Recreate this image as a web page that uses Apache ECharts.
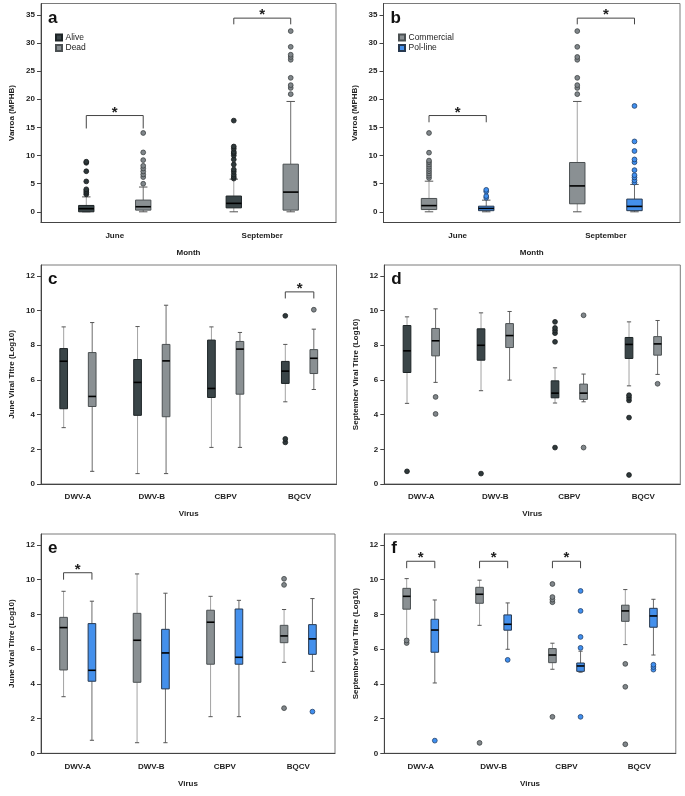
<!DOCTYPE html>
<html>
<head>
<meta charset="utf-8">
<script src="https://cdn.jsdelivr.net/npm/echarts@6/dist/echarts.min.js"></script>
<style>
html, body { margin: 0; padding: 0; background: #fff; }
#container { width: 685px; height: 796px; }
</style>
</head>
<body>
<div id="container"></div>
<script>
// categories and tick labels
var months = ['June', 'September'];
var viruses = ['DWV-A', 'DWV-B', 'CBPV', 'BQCV'];
var varroaTicks = [0, 5, 10, 15, 20, 25, 30, 35];
var titreTicks = [0, 2, 4, 6, 8, 10, 12];

// boxes: [min, Q1, median, Q3, max] per category; outliers per category
var varroaAliveBox = [[0, 0, 0.55, 1.13, 2.65], [0, 0.7, 1.5, 2.8, 5.8]];
var varroaAliveOut = [[3.1, 3.4, 3.7, 4.0, 5.4, 7.2, 8.7, 8.9], [5.9, 6.2, 6.6, 7.1, 7.5, 8.4, 9.3, 10.0, 10.4, 10.65, 11.2, 11.6, 16.2]];
var varroaDeadBox = [[0, 0.3, 0.9, 2.08, 4.4], [0, 0.3, 3.5, 8.46, 19.6]];
var varroaDeadOut = [[4.98, 6.16, 6.64, 7.17, 7.7, 8.17, 9.18, 10.55, 14.0], [20.9, 22.0, 22.5, 23.8, 27.0, 27.5, 27.9, 29.3, 32.1]];
var varroaCommBox = [[0, 0.4, 1.1, 2.37, 5.44], [0, 1.42, 4.6, 8.76, 19.6]];
var varroaCommOut = [[6.0, 6.4, 6.8, 7.2, 7.6, 8.0, 8.4, 8.8, 9.1, 10.5, 14.0], [20.9, 22.0, 22.5, 23.8, 27.0, 27.5, 29.3, 32.1]];
var varroaPolBox = [[0, 0.2, 0.6, 1.0, 2.07], [0, 0.2, 0.96, 2.26, 4.86]];
var varroaPolOut = [[2.5, 2.8, 3.6, 3.9], [5.2, 5.6, 6.1, 6.5, 7.4, 8.8, 9.3, 10.8, 12.5, 18.8]];

var juneAliveBox = [[3.25, 4.34, 7.08, 7.81, 9.06], [0.6, 3.96, 5.86, 7.18, 9.08], [2.11, 4.99, 5.51, 8.3, 9.06], [4.74, 5.8, 6.51, 7.07, 8.05]];
var juneAliveOut = [[], [], [], [2.4, 2.6, 9.7]];
var juneDeadBox = [[0.73, 4.47, 5.05, 7.58, 9.31], [0.6, 3.88, 7.1, 8.05, 10.31], [2.11, 5.18, 7.78, 8.22, 8.74], [5.45, 6.37, 7.25, 7.75, 8.93]];
var juneDeadOut = [[], [], [], [10.05]];
var septAliveBox = [[4.65, 6.43, 7.68, 9.14, 9.64], [5.38, 7.14, 8.0, 8.95, 9.87], [4.67, 4.97, 5.24, 5.95, 6.7], [5.66, 7.24, 8.05, 8.45, 9.35]];
var septAliveOut = [[0.73], [0.6], [2.1, 8.2, 8.7, 8.85, 9.0, 9.35], [0.52, 3.83, 4.82, 4.97, 5.12]];
var septDeadBox = [[5.86, 7.39, 8.26, 8.97, 10.1], [5.99, 7.87, 8.56, 9.25, 9.95], [4.74, 4.88, 5.24, 5.76, 6.34], [6.32, 7.43, 8.08, 8.5, 9.43]];
var septDeadOut = [[4.04, 5.02], [], [2.1, 9.73], [5.78]];
var juneCommBox = [[3.26, 4.8, 7.24, 7.83, 9.33], [0.61, 4.09, 6.51, 8.06, 10.33], [2.11, 5.13, 7.55, 8.24, 9.04], [5.24, 6.37, 6.76, 7.37, 8.28]];
var juneCommOut = [[], [], [], [2.6, 9.7, 10.05]];
var junePolBox = [[0.75, 4.15, 4.78, 7.47, 8.76], [0.61, 3.71, 5.78, 7.14, 9.22], [2.11, 5.13, 5.53, 8.31, 8.81], [4.72, 5.7, 6.59, 7.41, 8.91]];
var junePolOut = [[], [], [], [2.4]];
var septCommBox = [[6.59, 8.3, 9.04, 9.5, 10.06], [7.37, 8.64, 9.16, 9.56, 9.97], [4.84, 5.22, 5.66, 6.03, 6.34], [6.26, 7.6, 8.2, 8.53, 9.43]];
var septCommOut = [[6.35, 6.5], [0.6], [2.1, 8.7, 8.85, 9.0, 9.75], [0.52, 3.83, 5.15]];
var septPolBox = [[4.05, 5.82, 7.1, 7.72, 8.83], [5.99, 7.09, 7.43, 7.97, 8.66], [4.67, 4.72, 5.03, 5.2, 5.88], [5.66, 7.26, 7.91, 8.35, 8.87]];
var septPolOut = [[0.73], [5.38], [2.1, 6.07, 6.7, 8.2, 9.35], [4.82, 4.97, 5.1]];

// significance brackets: [category, bracket height, leg end]
var bracketsA = [[0, 17.1, 14.8], [1, 34.4, 33.3]];
var bracketsB = [[0, 17.1, 15.9], [1, 34.4, 33.3]];
var bracketsC = [[3, 11.08, 10.7]];
var bracketsD = [];
var bracketsE = [[0, 10.4, 10.0]];
var bracketsF = [[0, 11.06, 10.66], [1, 11.06, 10.66], [2, 11.06, 10.66]];

var FONT = '"Liberation Sans", Arial, sans-serif';
var SHIFT = 0.193;   // box centre offset, fraction of band width
var BOXW = 0.104;    // box width, fraction of band width
var WHISKER = ['#a3a3a3', '#6c6c6c'];

var styles = {
    dark: { fill: '#3a4548', stroke: '#1d2426', dot: '#2f393b', dotStroke: '#161b1c' },
    grey: { fill: '#8a9093', stroke: '#4b5052', dot: '#80868a', dotStroke: '#3c4143' },
    blue: { fill: '#4490ec', stroke: '#27384f', dot: '#3f8ff0', dotStroke: '#22406a' }
};

var panels = [
    { letter: 'a', grid: { left: 41, top: 3.5, width: 295, height: 219 }, cats: months, min: -1.9, max: 37, ticks: varroaTicks,
      yName: 'Varroa (MPHB)', xName: 'Month', legend: { left: 55, top: 33 }, brackets: bracketsA,
      groups: [{ name: 'Alive', box: varroaAliveBox, out: varroaAliveOut, st: styles.dark },
               { name: 'Dead', box: varroaDeadBox, out: varroaDeadOut, st: styles.grey }] },
    { letter: 'b', grid: { left: 383.5, top: 3.5, width: 296.5, height: 219 }, cats: months, min: -1.9, max: 37, ticks: varroaTicks,
      yName: 'Varroa (MPHB)', xName: 'Month', legend: { left: 398, top: 33 }, brackets: bracketsB,
      groups: [{ name: 'Commercial', box: varroaCommBox, out: varroaCommOut, st: styles.grey },
               { name: 'Pol-line', box: varroaPolBox, out: varroaPolOut, st: styles.blue }] },
    { letter: 'c', grid: { left: 41, top: 265, width: 295.5, height: 219 }, cats: viruses, min: 0, max: 12.63, ticks: titreTicks,
      yName: 'June Viral Titre (Log10)', xName: 'Virus', brackets: bracketsC,
      groups: [{ name: 'Alive', box: juneAliveBox, out: juneAliveOut, st: styles.dark },
               { name: 'Dead', box: juneDeadBox, out: juneDeadOut, st: styles.grey }] },
    { letter: 'd', grid: { left: 384.3, top: 265, width: 296, height: 219 }, cats: viruses, min: 0, max: 12.63, ticks: titreTicks,
      yName: 'September Viral Titre (Log10)', xName: 'Virus', brackets: bracketsD,
      groups: [{ name: 'Alive', box: septAliveBox, out: septAliveOut, st: styles.dark },
               { name: 'Dead', box: septDeadBox, out: septDeadOut, st: styles.grey }] },
    { letter: 'e', grid: { left: 41, top: 534, width: 294, height: 219.3 }, cats: viruses, min: 0, max: 12.63, ticks: titreTicks,
      yName: 'June Viral Titre (Log10)', xName: 'Virus', brackets: bracketsE,
      groups: [{ name: 'Commercial', box: juneCommBox, out: juneCommOut, st: styles.grey },
               { name: 'Pol-line', box: junePolBox, out: junePolOut, st: styles.blue }] },
    { letter: 'f', grid: { left: 384.3, top: 534, width: 291.5, height: 219.3 }, cats: viruses, min: 0, max: 12.63, ticks: titreTicks,
      yName: 'September Viral Titre (Log10)', xName: 'Virus', brackets: bracketsF,
      groups: [{ name: 'Commercial', box: septCommBox, out: septCommOut, st: styles.grey },
               { name: 'Pol-line', box: septPolBox, out: septPolOut, st: styles.blue }] }
];

function boxRenderer(shift, st, whisker) {
    return function (params, api) {
        var cat = api.value(0);
        var bw = api.size([1, 0])[0];
        var x = api.coord([cat, 0])[0] + shift * bw;
        var w = bw * BOXW;
        var cap = w * 0.55;
        var yMin = api.coord([cat, api.value(1)])[1];
        var yQ1 = api.coord([cat, api.value(2)])[1];
        var yMed = api.coord([cat, api.value(3)])[1];
        var yQ3 = api.coord([cat, api.value(4)])[1];
        var yMax = api.coord([cat, api.value(5)])[1];
        var wl = { stroke: whisker, lineWidth: 1 };
        var cl = { stroke: '#555', lineWidth: 1 };
        return {
            type: 'group',
            children: [
                { type: 'line', shape: { x1: x, y1: yQ1, x2: x, y2: yMin }, style: wl },
                { type: 'line', shape: { x1: x, y1: yQ3, x2: x, y2: yMax }, style: wl },
                { type: 'line', shape: { x1: x - cap / 2, y1: yMin, x2: x + cap / 2, y2: yMin }, style: cl },
                { type: 'line', shape: { x1: x - cap / 2, y1: yMax, x2: x + cap / 2, y2: yMax }, style: cl },
                { type: 'rect', shape: { x: x - w / 2, y: yQ3, width: w, height: yQ1 - yQ3 },
                  style: { fill: st.fill, stroke: st.stroke, lineWidth: 1 } },
                { type: 'line', shape: { x1: x - w / 2, y1: yMed, x2: x + w / 2, y2: yMed },
                  style: { stroke: '#000', lineWidth: 1.6 } }
            ]
        };
    };
}

function dotRenderer(shift, st) {
    return function (params, api) {
        var cat = api.value(0);
        var bw = api.size([1, 0])[0];
        var p = api.coord([cat, api.value(1)]);
        return {
            type: 'circle',
            shape: { cx: p[0] + shift * bw, cy: p[1], r: 2.4 },
            style: { fill: st.dot, stroke: st.dotStroke, lineWidth: 0.8 }
        };
    };
}

function bracketRenderer(params, api) {
    var cat = api.value(0);
    var bw = api.size([1, 0])[0];
    var cx = api.coord([cat, 0])[0];
    var yTop = api.coord([cat, api.value(1)])[1];
    var yLeg = api.coord([cat, api.value(2)])[1];
    var x1 = cx - SHIFT * bw, x2 = cx + SHIFT * bw;
    return {
        type: 'group',
        children: [
            { type: 'polyline', shape: { points: [[x1, yLeg], [x1, yTop], [x2, yTop], [x2, yLeg]] },
              style: { stroke: '#444', lineWidth: 1, fill: null } },
            { type: 'text', x: cx, y: yTop - 3,
              style: { text: '*', font: 'bold 15px ' + FONT, fill: '#222', align: 'center', verticalAlign: 'middle' } }
        ]
    };
}

var textBold = { fontFamily: FONT, fontWeight: 'bold', color: '#222' };
var option = { animation: false, title: [], legend: [], grid: [], xAxis: [], yAxis: [], series: [] };

panels.forEach(function (p, i) {
    option.grid.push({ left: p.grid.left, top: p.grid.top, width: p.grid.width, height: p.grid.height,
        show: true, borderColor: '#7a7a7a', borderWidth: 1 });
    option.title.push({ text: p.letter, left: p.grid.left + 7, top: p.grid.top + 6, padding: 0,
        textStyle: { fontFamily: FONT, fontWeight: 'bold', fontSize: 17, color: '#111' } });
    option.xAxis.push({
        type: 'category', gridIndex: i, data: p.cats,
        name: p.xName, nameLocation: 'middle', nameGap: 26,
        nameTextStyle: Object.assign({ fontSize: 8 }, textBold),
        axisLine: { onZero: false, lineStyle: { color: '#444' } },
        axisTick: { alignWithLabel: true, length: 5, lineStyle: { color: '#444' } },
        axisLabel: Object.assign({ margin: 9, fontSize: 8 }, textBold),
        splitLine: { show: false }
    });
    option.yAxis.push({
        type: 'value', gridIndex: i, min: p.min, max: p.max,
        name: p.yName, nameLocation: 'middle', nameGap: 25,
        nameTextStyle: Object.assign({ fontSize: 8 }, textBold),
        axisLine: { show: true, lineStyle: { color: '#444' } },
        axisTick: { show: true, length: 4, customValues: p.ticks, lineStyle: { color: '#444' } },
        axisLabel: Object.assign({ margin: 6, fontSize: 8, customValues: p.ticks }, textBold),
        splitLine: { show: false }
    });
    if (p.legend) {
        option.legend.push({
            left: p.legend.left, top: p.legend.top, orient: 'vertical', padding: 0,
            itemWidth: 6, itemHeight: 6, itemGap: 1.5, icon: 'rect', selectedMode: false,
            data: p.groups.map(function (g) { return g.name; }),
            textStyle: { fontFamily: FONT, fontSize: 8.5, color: '#222', padding: [0, 0, 0, -1.5], lineHeight: 9 }
        });
    }
    p.groups.forEach(function (g, gi) {
        var shift = gi === 0 ? -SHIFT : SHIFT;
        option.series.push({
            type: 'custom', name: g.name, xAxisIndex: i, yAxisIndex: i,
            itemStyle: { color: g.st.fill, borderColor: g.st.stroke, borderWidth: 1 },
            encode: { x: 0, y: [1, 2, 3, 4, 5] },
            data: g.box.map(function (b, ci) { return [ci].concat(b); }),
            renderItem: boxRenderer(shift, g.st, WHISKER[gi])
        });
        var dots = [];
        g.out.forEach(function (list, ci) {
            list.forEach(function (v) { dots.push([ci, v]); });
        });
        option.series.push({
            type: 'custom', name: g.name, xAxisIndex: i, yAxisIndex: i, z: 3,
            itemStyle: { color: g.st.fill },
            encode: { x: 0, y: 1 },
            data: dots,
            renderItem: dotRenderer(shift, g.st)
        });
    });
    option.series.push({
        type: 'custom', xAxisIndex: i, yAxisIndex: i, z: 4,
        encode: { x: 0, y: [1, 2] },
        data: p.brackets,
        renderItem: bracketRenderer
    });
});

var container = document.getElementById('container');
var chart = echarts.init(container, null, { renderer: 'canvas' });
chart.setOption(option);
</script>
</body>
</html>
